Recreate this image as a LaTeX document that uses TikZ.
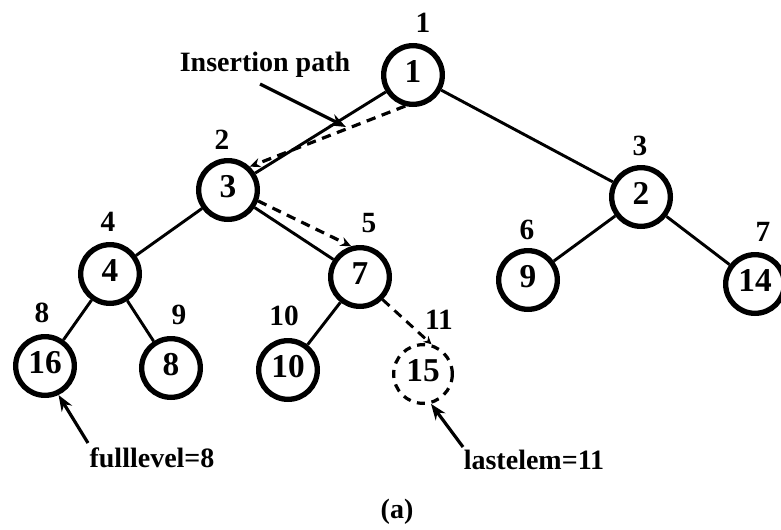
\documentclass[tikz,border=0pt]{standalone}
\usepackage{fontspec}
\setmainfont{Liberation Serif}
\usetikzlibrary{arrows.meta,calc}
\newcommand{\hv}[1]{\raisebox{5pt}{#1}}
\begin{document}
\begin{tikzpicture}[x=0.75pt,y=-0.75pt,
  heap/.style={circle,draw,line width=4pt,minimum size=44pt,inner sep=0pt,font=\fontsize{25}{25}\selectfont\bfseries},
  ghost/.style={heap,dash pattern=on 6pt off 5pt,line width=2.4pt},
  idx/.style={font=\fontsize{22}{22}\selectfont\bfseries,inner sep=0pt},
  txt/.style={font=\fontsize{21}{21}\selectfont\bfseries,inner sep=0pt},
  edge/.style={line width=2.2pt},
  inspath/.style={line width=2.4pt,dash pattern=on 7pt off 5pt,-{Stealth[length=8pt,width=7pt]}},
  pointer/.style={line width=2.4pt,-{Stealth[length=12pt,width=9pt]}}
]
\useasboundingbox (0,0) rectangle (781,529);
% heap nodes
\node[heap] (n1)  at (413,75)  {\hv{1}};
\node[heap] (n3)  at (228,190) {\hv{3}};
\node[heap] (n2)  at (641,197) {\hv{2}};
\node[heap] (n4)  at (110,274) {\hv{4}};
\node[heap] (n7)  at (360,277) {\hv{7}};
\node[heap] (n9)  at (528,280) {\hv{9}};
\node[heap] (n14) at (755,284) {\hv{14}};
\node[heap] (n16) at (45,366)  {\hv{16}};
\node[heap] (n8)  at (171,368) {\hv{8}};
\node[heap] (n10) at (288,370) {\hv{10}};
\node[ghost] (n15) at (423,374) {\hv{15}};
% index labels
\node[idx] (i1)  at (423,23)  {1};
\node[idx] (i2)  at (222,140) {2};
\node[idx] (i3)  at (640,146) {3};
\node[idx] (i4)  at (108,222) {4};
\node[idx] (i5)  at (369,223) {5};
\node[idx] (i6)  at (527,230) {6};
\node[idx] (i7)  at (763,232) {7};
\node[idx] (i8)  at (42,313)  {8};
\node[idx] (i9)  at (179,315) {9};
\node[idx] (i10) at (284,316) {10};
\node[idx] (i11) at (439,320) {11};
% tree edges
\draw[edge] (n1) -- (n3);
\draw[edge] (n1) -- (n2);
\draw[edge] (n3) -- (n4);
\draw[edge] (n3) -- (n7);
\draw[edge] (n2) -- (n9);
\draw[edge] (n2) -- (n14);
\draw[edge] (n4) -- (n16);
\draw[edge] (n4) -- (n8);
\draw[edge] (n7) -- (n10);
\draw[edge,dash pattern=on 7pt off 5pt,-{Stealth[length=6pt,width=6pt]}] (n7.-45) -- (n15.74);
% insertion path
\draw[inspath] (n1.256) -- (n3.47);
\draw[inspath] (n3.-20) -- (n7.106);
% annotations
\node[txt] (ins) at (265,65) {Insertion path};
\coordinate (insA) at (260,84);
\coordinate (insB) at (346,127);
\draw[pointer] (insA) -- (insB);
\node[txt] (full) at (152,458) {fulllevel=8};
\coordinate (fullA) at (88,443);
\draw[pointer] (fullA) -- (n16.-65);
\node[txt] (last) at (534,460) {lastelem=11};
\coordinate (lastA) at (463,447);
\draw[pointer] (lastA) -- (n15.-75);
\node[txt] (cap) at (397,512) {(a)};
\end{tikzpicture}
\end{document}
